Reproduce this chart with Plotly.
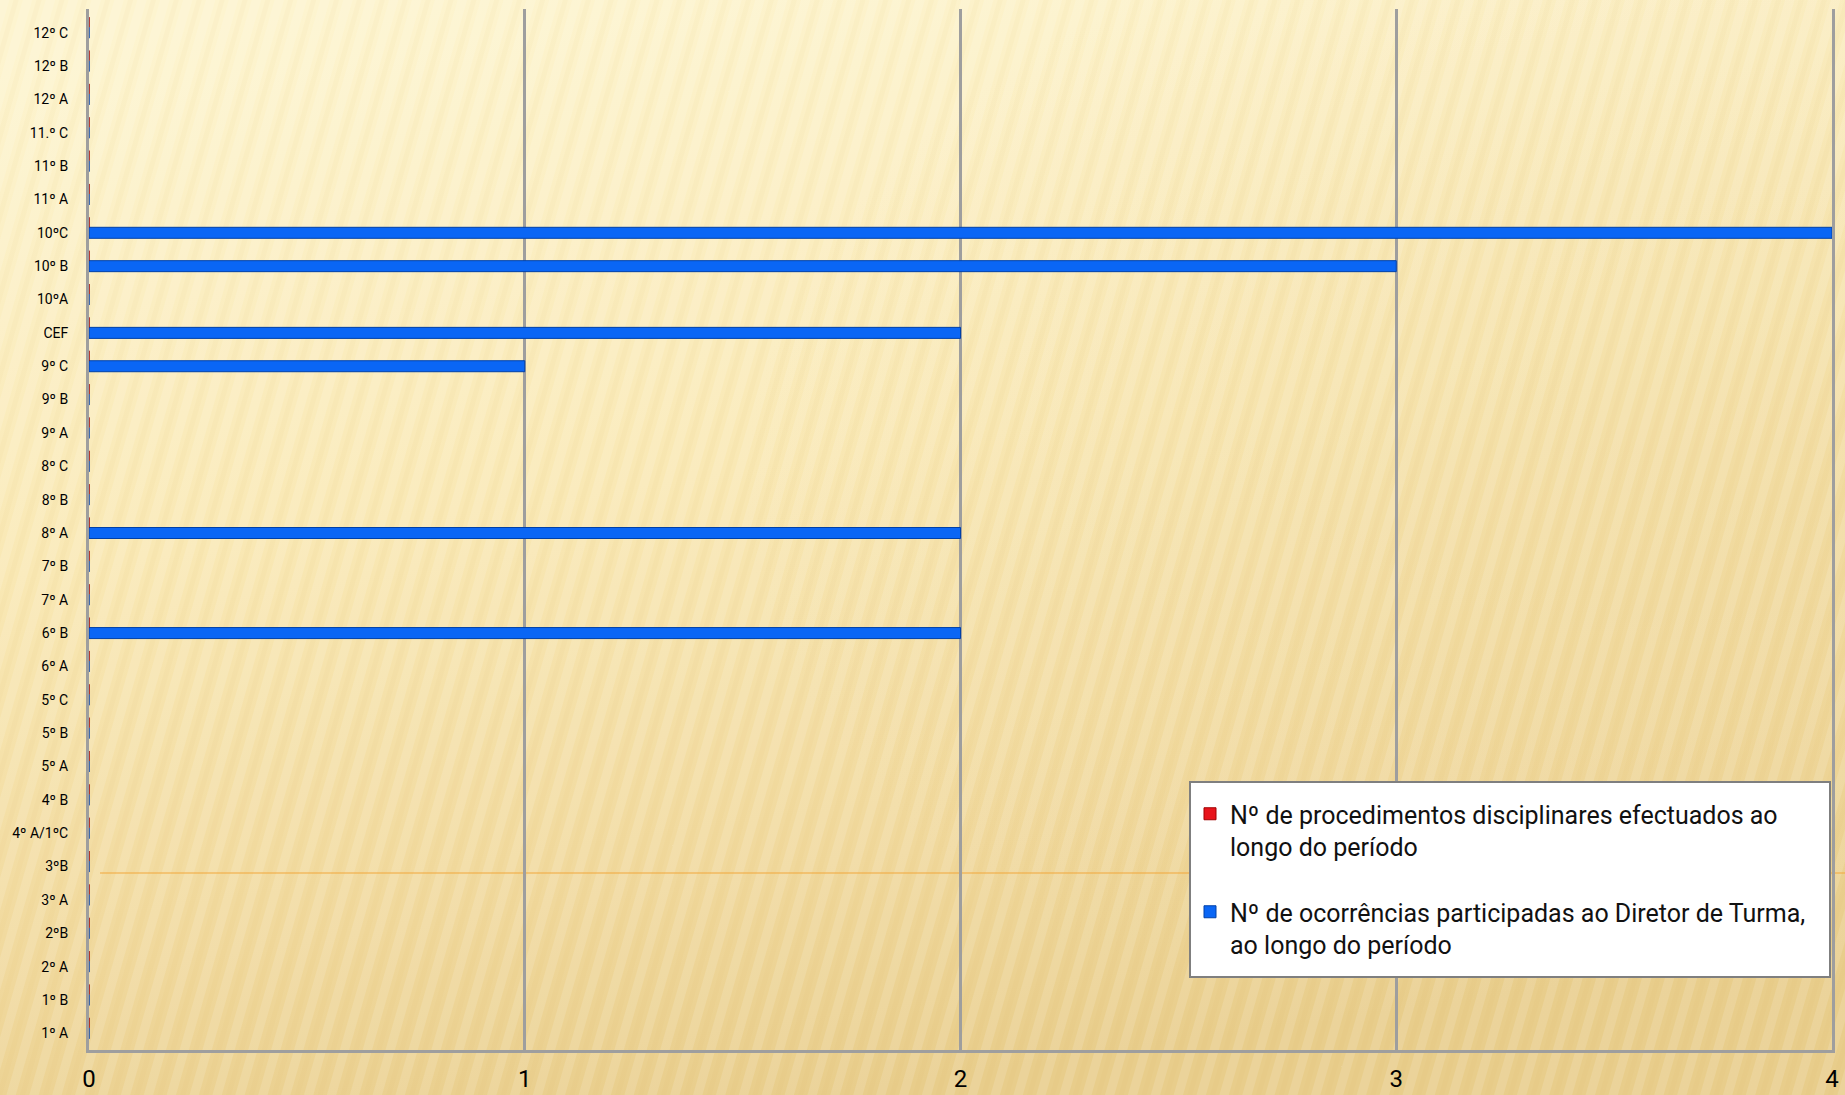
import base64
import plotly.graph_objects as go

categories = ["1º A", "1º B", "2º A", "2ºB", "3º A", "3ºB", "4º A/1ºC", "4º B",
              "5º A", "5º B", "5º C", "6º A", "6º B", "7º A", "7º B", "8º A",
              "8º B", "8º C", "9º A", "9º B", "9º C", "CEF", "10ºA", "10º B",
              "10ºC", "11º A", "11º B", "11.º C", "12º A", "12º B", "12º C"]
procedimentos = [0] * 31
ocorrencias = [0, 0, 0, 0, 0, 0, 0, 0,
               0, 0, 0, 0, 2, 0, 0, 2,
               0, 0, 0, 0, 1, 2, 0, 3,
               4, 0, 0, 0, 0, 0, 0]
name_proc = "Nº de procedimentos disciplinares efectuados ao<br>longo do período"
name_ocor = "Nº de ocorrências participadas ao Diretor de Turma,<br>ao longo do período"
x_ticks = [0, 1, 2, 3, 4]

W, H = 1845, 1095
L, R, T, B = 89, 13, 9, 45
pw, ph = W - L - R, H - T - B
y_top = 30.5 + 7 / 33.33


def px_to_paper_x(px):
    return (px - L) / pw


def px_to_paper_y(py):
    return (H - B - py) / ph


svg = f'''<svg xmlns="http://www.w3.org/2000/svg" width="{W}" height="{H}" viewBox="0 0 {W} {H}" preserveAspectRatio="none">
<defs>
<linearGradient id="g" x1="0.2" y1="0" x2="0.45" y2="1">
<stop offset="0" stop-color="#FDF4CF"/>
<stop offset="0.45" stop-color="#F9E8B4"/>
<stop offset="0.8" stop-color="#F0D89C"/>
<stop offset="1" stop-color="#E8CD8B"/>
</linearGradient>
<radialGradient id="h" cx="1.0" cy="0.45" r="0.6">
<stop offset="0" stop-color="#E9CF8E" stop-opacity="0.35"/>
<stop offset="1" stop-color="#E9CF8E" stop-opacity="0"/>
</radialGradient>
<pattern id="p" width="22" height="22" patternUnits="userSpaceOnUse" patternTransform="rotate(16)">
<rect x="0" y="0" width="9" height="22" fill="#FFFFFF" fill-opacity="0.13"/>
<rect x="13" y="0" width="5" height="22" fill="#C49A40" fill-opacity="0.045"/>
</pattern>
</defs>
<rect width="{W}" height="{H}" fill="url(#g)"/>
<rect width="{W}" height="{H}" fill="url(#h)"/>
<rect width="{W}" height="{H}" fill="url(#p)"/>
</svg>'''
src = "data:image/svg+xml;base64," + base64.b64encode(svg.encode()).decode()

fig = go.Figure()
fig.add_trace(go.Bar(
    y=categories, x=ocorrencias, orientation="h", name=name_ocor,
    width=0.33, offset=-0.165, legendgroup="b", legendrank=2,
    marker=dict(color="#0A66F5", line=dict(color="#0040A8", width=1)),
))
fig.add_trace(go.Bar(
    y=categories, x=procedimentos, orientation="h", name=name_proc,
    width=0.3, offset=0.165, legendgroup="a", legendrank=1,
    marker=dict(color="#E8141B", line=dict(color="#A00000", width=1)),
))

fig.update_layout(
    width=W, height=H,
    margin=dict(l=L, r=R, t=T, b=B, autoexpand=False),
    paper_bgcolor="#F5E2A8",
    plot_bgcolor="rgba(0,0,0,0)",
    barmode="overlay",
    font=dict(family="Roboto, Liberation Sans, sans-serif", color="#000000"),
    showlegend=True,
    legend=dict(
        x=px_to_paper_x(1190), y=px_to_paper_y(791), xanchor="left", yanchor="top",
        bgcolor="rgba(0,0,0,0)", borderwidth=0, valign="top",
        font=dict(size=25, color="#111111"), traceorder="grouped",
        itemwidth=30, tracegroupgap=30,
    ),
    images=[dict(source=src, xref="paper", yref="paper",
                 x=-L / pw, y=1 + T / ph, sizex=W / pw, sizey=H / ph,
                 xanchor="left", yanchor="top", sizing="stretch", layer="below")],
    shapes=[
        dict(type="line", xref="paper", yref="paper",
             x0=px_to_paper_x(100), x1=px_to_paper_x(W),
             y0=px_to_paper_y(873), y1=px_to_paper_y(873),
             line=dict(color="#F2A73A", width=1), layer="below"),
        dict(type="rect", xref="paper", yref="paper",
             x0=px_to_paper_x(1190), x1=px_to_paper_x(1830),
             y0=px_to_paper_y(977), y1=px_to_paper_y(782),
             fillcolor="#FFFFFF", line=dict(color="#7F7F7F", width=2), layer="above"),
    ],
)
fig.update_xaxes(
    range=[0, 4], tickvals=x_ticks, ticktext=[str(v) for v in x_ticks],
    showgrid=True, gridcolor="#9E9E9E", gridwidth=3,
    showline=True, linecolor="#9E9E9E", linewidth=3,
    zeroline=False, ticks="", tickfont=dict(size=24, color="#000000"),
    ticklabelstandoff=5, automargin=False,
)
fig.update_yaxes(
    showgrid=False, showline=True, mirror=True, linecolor="#9E9E9E", linewidth=3,
    ticks="", tickfont=dict(size=14, color="#000000"), ticklabelstandoff=15,
    range=[-0.5, y_top], automargin=False,
)
fig.write_html(
    "out.html",
    config={"displayModeBar": False},
    post_script="document.body.style.margin='0';document.body.style.overflow='hidden';",
)
